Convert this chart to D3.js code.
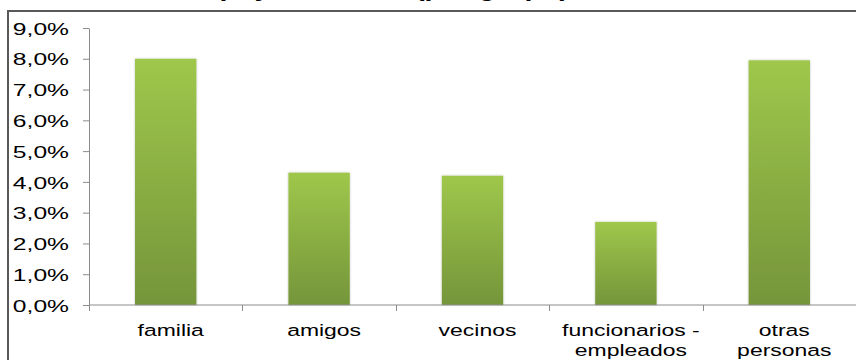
<!DOCTYPE html>
<html><head><meta charset="utf-8">
<script src="https://cdn.jsdelivr.net/npm/d3@7"></script>
<style>body{margin:0;background:#fff}svg{display:block}text{font-family:"Liberation Sans",Arial,sans-serif}</style>
</head><body>
<svg id="c" width="856" height="360"></svg>
<script>
const categories = ["familia", "amigos", "vecinos", "funcionarios - empleados", "otras personas"];
const labelLines = [["familia"], ["amigos"], ["vecinos"], ["funcionarios -", "empleados"], ["otras", "personas"]];
const values = [8.0, 4.3, 4.2, 2.7, 7.95];
const yTicks = [0, 1, 2, 3, 4, 5, 6, 7, 8, 9];
const title = "Apoyo recibido (por grupo)";

const svg = d3.select("#c");
const W = 856, H = 360;
const m = {left: 89, right: 0, top: 28, bottom: 55};
const x = d3.scaleBand().domain(categories).range([m.left, W - m.right]).paddingInner(0.6).paddingOuter(0.3);
const xb = d3.scaleBand().domain(categories).range([m.left, W - m.right]);
const y = d3.scaleLinear().domain([0, 9]).range([H - m.bottom, m.top]);

const defs = svg.append("defs");
const g = defs.append("linearGradient").attr("id", "bg").attr("x1", 0).attr("y1", 0).attr("x2", 0).attr("y2", 1);
g.append("stop").attr("offset", "0%").attr("stop-color", "#9fc74b");
g.append("stop").attr("offset", "100%").attr("stop-color", "#75953a");
const f = defs.append("filter").attr("id", "sh").attr("x", "-20%").attr("y", "-5%").attr("width", "140%").attr("height", "110%");
f.append("feDropShadow").attr("dx", 0).attr("dy", 0).attr("stdDeviation", 1.2).attr("flood-color", "#000").attr("flood-opacity", 0.25);

// frame
svg.append("rect").attr("x", 8).attr("y", 11).attr("width", 900).attr("height", 400)
  .attr("fill", "none").attr("stroke", "#595959").attr("stroke-width", 2);

// title (cut off at top, as in the reference)
svg.append("text").attr("x", 0).attr("y", 0)
  .attr("transform", "translate(569,-4.5) scale(1.1,1)")
  .attr("text-anchor", "end").attr("font-weight", "bold").attr("font-size", 26).attr("fill", "#000")
  .text(title);

// bars
svg.append("g").selectAll("rect").data(values).join("rect")
  .attr("x", (d, i) => x(categories[i]))
  .attr("y", d => y(d))
  .attr("width", x.bandwidth())
  .attr("height", d => y(0) - y(d))
  .attr("fill", "url(#bg)")
  .attr("filter", "url(#sh)");

// y axis
const ya = svg.append("g").attr("transform", `translate(${m.left},0)`)
  .call(d3.axisLeft(y).tickValues(yTicks).tickSize(6).tickSizeOuter(0)
    .tickFormat(d => d.toFixed(1).replace(".", ",") + "%"));
ya.select(".domain").attr("stroke", "#8c8c8c");
ya.selectAll(".tick line").attr("stroke", "#8c8c8c");
ya.selectAll(".tick text").attr("x", 0).attr("dy", "0.36em")
  .attr("transform", "translate(-20,0) scale(1.45,1)")
  .attr("font-size", 17).attr("fill", "#000")
  .style("font-family", '"Liberation Sans", Arial, sans-serif');

// x axis
const xa = svg.append("g").attr("transform", `translate(0,${y(0)})`);
xa.append("line").attr("x1", m.left).attr("x2", W).attr("y1", 0).attr("y2", 0).attr("stroke", "#8c8c8c");
const bounds = categories.map(c => xb(c)).concat([W - 0.5]);
xa.selectAll("line.tk").data(bounds).join("line").attr("class", "tk")
  .attr("x1", d => Math.round(d) + 0.5).attr("x2", d => Math.round(d) + 0.5)
  .attr("y1", 0).attr("y2", 6).attr("stroke", "#8c8c8c");

const lbl = svg.append("g").selectAll("g").data(labelLines).join("g")
  .attr("transform", (d, i) => `translate(${xb(categories[i]) + xb.bandwidth() / 2 + 5},0) scale(1.35,1)`);
lbl.each(function(lines) {
  const t = d3.select(this).append("text").attr("text-anchor", "middle").attr("font-size", 17).attr("fill", "#000");
  lines.forEach((s, k) => t.append("tspan").attr("x", 0).attr("y", 336 + k * 20).text(s));
});
</script>
</body></html>
